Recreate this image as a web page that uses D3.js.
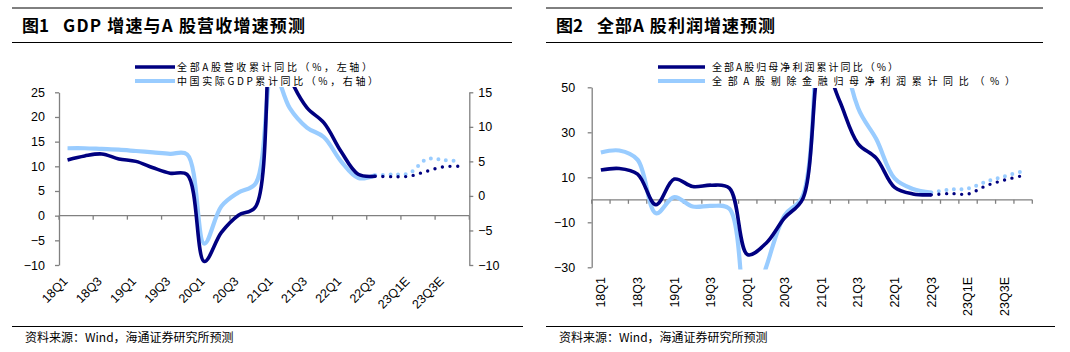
<!DOCTYPE html>
<html lang="zh-CN">
<head>
<meta charset="UTF-8">
<title>GDP与A股营收、利润增速预测</title>
<script src="https://cdn.jsdelivr.net/npm/d3@7"></script>
<style>
    body { margin: 0; background: #fff; }
    svg text { font-family: "Liberation Sans", Arial, sans-serif; fill: #000; }
    svg text.cn { font-family: "Noto Sans CJK SC", sans-serif; }
</style>
</head>
<body>
<svg id="chart" width="1070" height="352"></svg>
<script>
    // 季度
    var quarters = ['18Q1', '18Q2', '18Q3', '18Q4', '19Q1', '19Q2', '19Q3', '19Q4',
        '20Q1', '20Q2', '20Q3', '20Q4', '21Q1', '21Q2', '21Q3', '21Q4',
        '22Q1', '22Q2', '22Q3', '22Q4E', '23Q1E', '23Q2E', '23Q3E', '23Q4E'];
    var actualQ = ['18Q1', '18Q2', '18Q3', '18Q4', '19Q1', '19Q2', '19Q3', '19Q4',
        '20Q1', '20Q2', '20Q3', '20Q4', '21Q1', '21Q2', '21Q3', '21Q4',
        '22Q1', '22Q2', '22Q3'];
    var forecastQ = ['22Q3', '22Q4E', '23Q1E', '23Q2E', '23Q3E', '23Q4E'];

    // 图1：全部A股营收累计同比（左轴），中国实际GDP累计同比（右轴）
    var revenueAct = [11.3, 12.1, 12.5, 11.5, 11.0, 9.7, 8.6, 8.3, -9.3, -3.4, 0.1, 1.8,
        38, 28, 21.9, 18.8, 13.0, 8.4, 8.0];
    var revenueFcst = [8.0, 7.9, 8.0, 9.0, 9.9, 10.0];
    var gdpAct = [6.9, 6.9, 6.8, 6.7, 6.5, 6.3, 6.1, 6.0, -6.9, -1.5, 0.5, 1.8,
        18.3, 12.7, 9.9, 8.5, 5.0, 2.6, 3.0];
    var gdpFcst = [3.0, 3.1, 3.3, 5.3, 5.2, 5.0];

    // 图2：全部A股归母净利润累计同比，剔除金融
    var profitAct = [13.2, 13.9, 11.4, -2.2, 9.2, 5.9, 6.5, 5.2, -24.4, -19.3, -8.1, 0.5,
        62, 44, 25.0, 18.5, 5.5, 2.6, 2.2];
    var profitFcst = [2.2, 2.8, 2.6, 6.3, 8.8, 10.8];
    var exFinAct = [21.0, 21.9, 17.8, -6.0, 1.2, -3.0, -2.7, -4.0, -55, -30, -7, 1.8,
        180, 80, 41, 27, 9.5, 4.8, 3.2];
    var exFinFcst = [3.2, 4.6, 5.0, 8.1, 10.5, 12.7];

    var ticksLeftL = [-10, -5, 0, 5, 10, 15, 20, 25];
    var ticksLeftR = [-10, -5, 0, 5, 10, 15];
    var ticksRight = [-30, -10, 10, 30, 50];

    var NAVY = '#000080', SKY = '#99ccff', AXIS = '#808080';
    var svg = d3.select('#chart');

    // 标题与分隔线
    var frame = function (x0, x1, x1b, num, title, titleX, titleLen, source) {
        svg.append('line').attr('x1', x0).attr('x2', x1).attr('y1', 8).attr('y2', 8)
            .attr('stroke', '#000').attr('stroke-width', 1);
        svg.append('line').attr('x1', x0).attr('x2', x1).attr('y1', 42.5).attr('y2', 42.5)
            .attr('stroke', '#000').attr('stroke-width', 1);
        svg.append('line').attr('x1', x0).attr('x2', x1b).attr('y1', 326.5).attr('y2', 326.5)
            .attr('stroke', '#000').attr('stroke-width', 1);
        svg.append('text').attr('class', 'cn').attr('x', x0 + 10).attr('y', 32)
            .attr('font-size', 17).attr('font-weight', 'bold').text(num);
        svg.append('text').attr('class', 'cn').attr('x', titleX).attr('y', 32)
            .attr('font-size', 17).attr('font-weight', 'bold')
            .attr('textLength', titleLen).attr('lengthAdjust', 'spacing').text(title);
        svg.append('text').attr('class', 'cn').attr('x', x0 + 13).attr('y', 342)
            .attr('font-size', 12).text(source);
    };
    frame(12, 512, 523, '图1', 'GDP 增速与A 股营收增速预测', 63, 242, '资料来源：Wind，海通证券研究所预测');
    frame(546, 1043, 1055, '图2', '全部A 股利润增速预测', 597, 178, '资料来源：Wind，海通证券研究所预测');

    // 图例，两行
    var legend = function (x0, x1, tx, items) {
        items.forEach(function (it, i) {
            var y = 67 + i * 14;
            svg.append('line').attr('x1', x0).attr('x2', x1).attr('y1', y).attr('y2', y)
                .attr('stroke', it.color).attr('stroke-width', it.width);
            svg.append('text').attr('class', 'cn').attr('x', tx).attr('y', y + 3.6)
                .attr('font-size', 10).attr('textLength', it.len).attr('lengthAdjust', 'spacing')
                .text(it.name);
        });
    };

    var curve = d3.curveCatmullRom.alpha(0.5);
    var drawSeries = function (g, x, y, qs, vals, color, width, dotted) {
        var line = d3.line()
            .x(function (d) { return x(d.q) + x.bandwidth() / 2; })
            .y(function (d) { return y(d.v); })
            .curve(curve);
        var data = qs.map(function (q, i) { return {q: q, v: vals[i]}; });
        var p = g.append('path').datum(data)
            .attr('d', line)
            .attr('fill', 'none')
            .attr('stroke', color)
            .attr('stroke-width', width)
            .attr('stroke-linejoin', 'round');
        if (dotted) {
            p.attr('stroke-dasharray', '0 7.6').attr('stroke-linecap', 'round');
        }
    };

    var styleAxis = function (g) {
        g.selectAll('path, line').attr('stroke', AXIS).attr('stroke-width', 1.3);
        g.selectAll('text').attr('font-size', 12.5).attr('fill', '#000');
    };

    // ---------------- 图1 ----------------
    var x1 = d3.scaleBand().domain(quarters).range([59, 469.3]);
    var y1L = d3.scaleLinear().domain([-10, 25]).range([265, 92.3]);
    var y1R = d3.scaleLinear().domain([-10, 15]).range([265, 92.3]);

    svg.append('g').attr('transform', 'translate(59,0)')
        .call(d3.axisLeft(y1L).tickValues(ticksLeftL).tickSize(4).tickPadding(10).tickSizeOuter(0))
        .call(styleAxis);
    svg.append('g').attr('transform', 'translate(469.3,0)')
        .call(d3.axisRight(y1R).tickValues(ticksLeftR).tickSize(4).tickPadding(5).tickSizeOuter(0))
        .call(styleAxis);

    var xAxis1 = svg.append('g');
    xAxis1.append('line').attr('x1', x1.range()[0]).attr('x2', x1.range()[1])
        .attr('y1', y1L(0)).attr('y2', y1L(0)).attr('stroke', AXIS).attr('stroke-width', 1.3);
    xAxis1.selectAll('.tk').data(quarters.filter(function (q, i) { return i % 2 === 0; }).concat(['end']))
        .enter().append('line')
        .attr('x1', function (d) { return d === 'end' ? x1.range()[1] : x1(d); })
        .attr('x2', function (d) { return d === 'end' ? x1.range()[1] : x1(d); })
        .attr('y1', y1L(0)).attr('y2', y1L(0) + 4)
        .attr('stroke', AXIS).attr('stroke-width', 1.3);
    xAxis1.selectAll('text').data(quarters.filter(function (q, i) { return i % 2 === 0; }))
        .enter().append('text')
        .attr('transform', function (d) {
            return 'translate(' + (x1(d) + x1.bandwidth() / 2 + 1) + ',282) rotate(-45)';
        })
        .attr('text-anchor', 'end')
        .attr('font-size', 12.5)
        .text(function (d) { return d; });

    svg.append('clipPath').attr('id', 'clip1').append('rect')
        .attr('x', 40).attr('y', 87).attr('width', 450).attr('height', 181);
    var lines1 = svg.append('g').attr('clip-path', 'url(#clip1)');
    drawSeries(lines1, x1, y1R, actualQ, gdpAct, SKY, 4.2, false);
    drawSeries(lines1, x1, y1R, forecastQ, gdpFcst, SKY, 4, true);
    drawSeries(lines1, x1, y1L, actualQ, revenueAct, NAVY, 3.6, false);
    drawSeries(lines1, x1, y1L, forecastQ, revenueFcst, NAVY, 3.4, true);

    legend(135, 175, 177, [
        {name: '全部A股营收累计同比（%，左轴）', color: NAVY, width: 3.6, len: 195},
        {name: '中国实际GDP累计同比（%，右轴）', color: SKY, width: 4.2, len: 201}
    ]);

    // ---------------- 图2 ----------------
    var x2 = d3.scaleBand().domain(quarters).range([591.7, 1032.3]);
    var y2 = d3.scaleLinear().domain([-30, 50]).range([267.3, 87.3]);

    svg.append('g').attr('transform', 'translate(591.7,0)')
        .call(d3.axisLeft(y2).tickValues(ticksRight).tickSize(4).tickPadding(12.5).tickSizeOuter(0))
        .call(styleAxis);

    var xAxis2 = svg.append('g');
    xAxis2.append('line').attr('x1', x2.range()[0]).attr('x2', x2.range()[1])
        .attr('y1', y2(0)).attr('y2', y2(0)).attr('stroke', AXIS).attr('stroke-width', 1.3);
    xAxis2.selectAll('.tk').data(quarters.concat(['end']))
        .enter().append('line')
        .attr('x1', function (d) { return d === 'end' ? x2.range()[1] : x2(d); })
        .attr('x2', function (d) { return d === 'end' ? x2.range()[1] : x2(d); })
        .attr('y1', y2(0)).attr('y2', y2(0) + 4)
        .attr('stroke', AXIS).attr('stroke-width', 1.3);
    xAxis2.selectAll('text').data(quarters.filter(function (q, i) { return i % 2 === 0; }))
        .enter().append('text')
        .attr('transform', function (d) {
            return 'translate(' + (x2(d) + x2.bandwidth() / 2) + ',277) rotate(-90)';
        })
        .attr('text-anchor', 'end')
        .attr('dy', '0.35em')
        .attr('font-size', 12.5)
        .text(function (d) { return d; });

    svg.append('clipPath').attr('id', 'clip2').append('rect')
        .attr('x', 580).attr('y', 88).attr('width', 470).attr('height', 181.5);
    var lines2 = svg.append('g').attr('clip-path', 'url(#clip2)');
    drawSeries(lines2, x2, y2, actualQ, exFinAct, SKY, 4.2, false);
    drawSeries(lines2, x2, y2, forecastQ, exFinFcst, SKY, 4, true);
    drawSeries(lines2, x2, y2, actualQ, profitAct, NAVY, 3.6, false);
    drawSeries(lines2, x2, y2, forecastQ, profitFcst, NAVY, 3.4, true);

    legend(658, 705, 712, [
        {name: '全部A股归母净利润累计同比（%）', color: NAVY, width: 3.6, len: 186},
        {name: '全部A股剔除金融归母净利润累计同比（%）', color: SKY, width: 4.2, len: 303}
    ]);
</script>
</body>
</html>
